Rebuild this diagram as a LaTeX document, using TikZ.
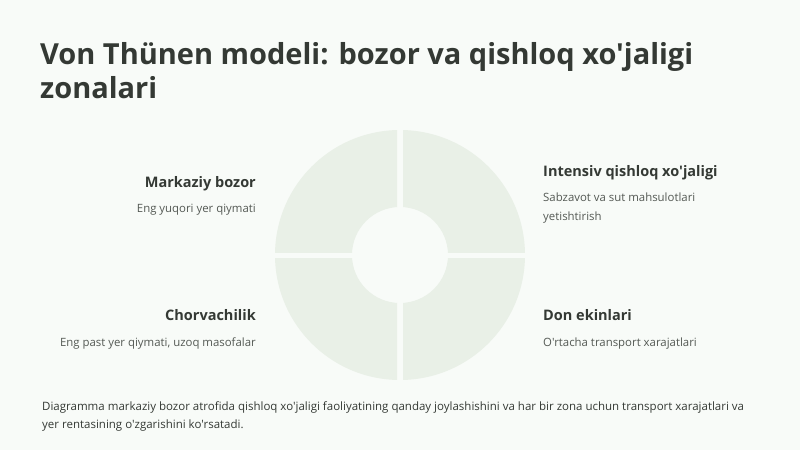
\documentclass[tikz,border=0pt]{standalone}
\usepackage{fontspec}
\setmainfont{Open Sans}[Ligatures=TeXOff]
\usetikzlibrary{positioning}

\definecolor{bgcol}{HTML}{F8FBF8}
\definecolor{ringcol}{HTML}{E9F0E7}
\definecolor{inkcol}{HTML}{343934}
\definecolor{softcol}{HTML}{545954}

\tikzset{
    zonehead/.style={font=\bfseries\fontsize{14.5}{17}\selectfont, text=inkcol, inner sep=0pt},
    zonenote/.style={font=\fontsize{11.4}{19}\selectfont, text=softcol, inner sep=0pt},
}

\begin{document}
\begin{tikzpicture}[x=1pt, y=-1pt]

    % Background and page size
    \fill[bgcol] (0,0) rectangle (800,450);
    \useasboundingbox (0,0) rectangle (800,450);

    % Title (base anchor sits on the last line)
    \node[anchor=base west, inner sep=0pt, text=inkcol, align=left,
          font=\bfseries\fontsize{29}{34}\selectfont] (title) at (40,98)
        {Von Thünen modeli: bozor va qishloq xo'jaligi\\zonalari};

    % Ring of four zones, cut by two gaps
    \foreach \sx/\sy in {1/1,-1/1,1/-1,-1/-1} {
        \begin{scope}
            \clip (400+\sx*3, 255+\sy*3) rectangle (400+\sx*135, 255+\sy*135);
            \fill[ringcol, even odd rule] (400,255) circle[radius=125pt] (400,255) circle[radius=48pt];
        \end{scope}
    }

    % Left labels
    \node[zonehead, anchor=base east] (market) at (256,187) {Markaziy bozor};
    \node[zonenote, anchor=base east] (marketnote) at (256,212) {Eng yuqori yer qiymati};
    \node[zonehead, anchor=base east] (livestock) at (256,320) {Chorvachilik};
    \node[zonenote, anchor=base east] (livestocknote) at (256,346) {Eng past yer qiymati, uzoq masofalar};

    % Right labels
    \node[zonehead, anchor=base west] (intensive) at (543,176) {Intensiv qishloq xo'jaligi};
    \node[zonenote, anchor=base west, align=left] (intensivenote) at (543,220) {Sabzavot va sut mahsulotlari\\yetishtirish};
    \node[zonehead, anchor=base west] (grain) at (543,320) {Don ekinlari};
    \node[zonenote, anchor=base west] (grainnote) at (543,346) {O'rtacha transport xarajatlari};

    % Caption
    \node[zonenote, anchor=base west, align=left, font=\fontsize{11.5}{18}\selectfont, text=inkcol] (caption) at (42,428)
        {Diagramma markaziy bozor atrofida qishloq xo'jaligi faoliyatining qanday joylashishini va har bir zona uchun transport xarajatlari va\\yer rentasining o'zgarishini ko'rsatadi.};

\end{tikzpicture}
\end{document}
